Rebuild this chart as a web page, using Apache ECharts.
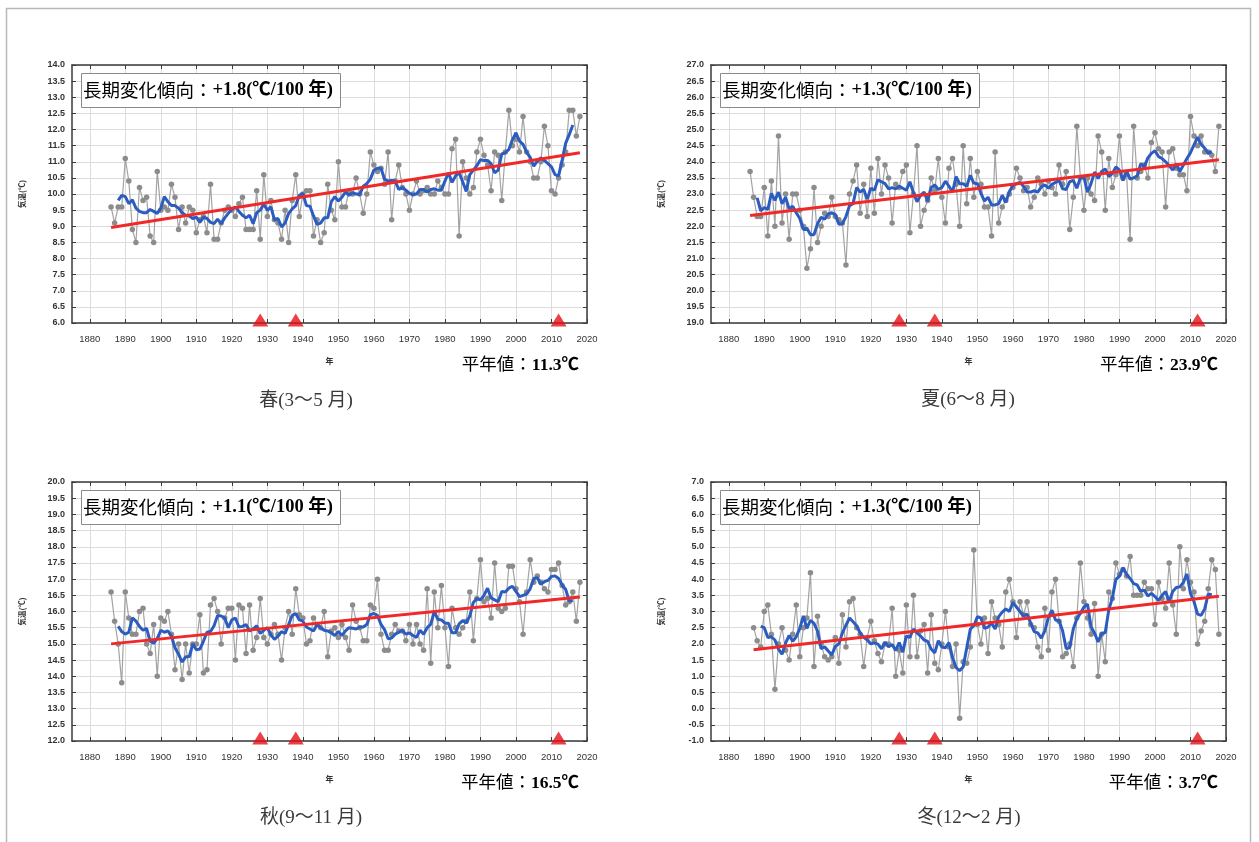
<!DOCTYPE html>
<html>
<head>
<meta charset="utf-8">
<script src="https://cdn.jsdelivr.net/npm/echarts@6/dist/echarts.min.js"></script>
<style>
html,body{margin:0;padding:0;background:#fff;}
#chart{width:1259px;height:842px;}
</style>
</head>
<body>
<div id="chart"></div>
<script>
// ---------- data ----------
const xTickYears = [1880,1890,1900,1910,1920,1930,1940,1950,1960,1970,1980,1990,2000,2010,2020];

const springStart = 1886;
const springTemp = [
 9.6,9.1,9.6,9.6,11.1,10.4,8.9,8.5,10.2,9.8,
 9.9,8.7,8.5,10.7,9.5,9.6,9.5,10.3,9.9,8.9,
 9.6,9.1,9.6,9.5,8.8,9.2,9.3,8.8,10.3,8.6,
 8.6,9.1,9.5,9.6,9.5,9.3,9.7,9.9,8.9,8.9,
 8.9,10.1,8.6,10.6,9.3,9.8,9.2,9.1,8.6,9.5,
 8.5,9.8,10.6,9.3,10.0,10.1,10.1,8.7,9.2,8.5,
 8.8,10.3,9.5,9.2,11.0,9.6,9.6,10.1,10.0,10.5,
 10.0,9.4,10.0,11.3,10.9,10.7,10.8,10.3,11.3,9.2,
 10.4,10.9,10.2,10.0,9.5,10.0,10.4,10.0,10.1,10.2,
 10.0,10.0,10.4,10.2,10.0,10.0,11.4,11.7,8.7,11.0,
 10.5,10.0,10.2,11.3,11.7,11.2,10.9,10.1,11.3,11.2,
 9.8,11.3,12.6,11.5,11.7,11.3,12.4,11.3,11.0,10.5,
 10.5,11.0,12.1,11.5,10.1,10.0,10.5,10.9,11.3,12.6,
 12.6,11.8,12.4
];

const summerStart = 1886;
const summerTemp = [
 23.7,22.9,22.3,22.3,23.2,21.7,23.4,22.0,24.8,22.1,
 23.0,21.6,23.0,23.0,22.5,22.0,20.7,21.3,23.2,21.5,
 22.0,22.4,22.3,22.9,22.3,22.2,22.1,20.8,23.0,23.4,
 23.9,22.4,23.3,22.3,23.8,22.4,24.1,23.0,23.9,23.5,
 22.1,23.3,23.2,23.7,23.9,21.8,23.0,24.5,22.0,22.5,
 22.8,23.5,23.1,24.1,22.9,22.1,23.8,24.1,23.3,22.0,
 24.5,22.7,24.1,22.9,23.7,23.3,22.6,22.6,21.7,24.3,
 22.1,22.6,22.8,23.0,23.2,23.8,23.5,23.1,23.2,22.6,
 22.9,23.5,23.3,23.0,23.4,23.2,23.0,23.9,23.3,23.7,
 21.9,22.9,25.1,23.5,22.5,23.5,23.0,22.8,24.8,24.3,
 22.5,24.1,23.2,23.6,24.8,23.5,23.6,21.6,25.1,23.5,
 23.7,23.9,23.5,24.6,24.9,24.4,24.3,22.6,24.3,24.4,
 23.8,23.6,23.6,23.1,25.4,24.8,24.5,24.8,24.3,24.3,
 24.2,23.7,25.1
];

const autumnStart = 1886;
const autumnTemp = [
 16.6,15.7,15.0,13.8,16.6,15.8,15.3,15.3,16.0,16.1,
 15.0,14.7,15.6,14.0,15.8,15.7,16.0,15.3,14.2,15.0,
 13.9,15.0,14.1,15.0,15.0,15.9,14.1,14.2,16.2,16.4,
 16.0,15.0,15.8,16.1,16.1,14.5,16.2,16.1,14.7,16.2,
 14.8,15.2,16.4,15.2,15.0,15.3,15.6,15.3,14.5,15.5,
 16.0,15.3,16.7,15.9,15.8,15.0,15.1,15.8,15.6,15.5,
 16.0,14.6,15.4,15.5,15.2,15.6,15.2,14.8,16.2,15.7,
 15.5,15.1,15.1,16.2,16.1,17.0,15.3,14.8,14.8,15.3,
 15.6,15.4,15.4,15.1,15.6,15.0,15.6,15.0,14.8,16.7,
 14.4,16.6,15.5,16.8,15.5,14.3,16.1,15.5,15.3,15.5,
 15.7,16.6,15.1,16.4,17.6,16.3,16.4,15.8,17.5,16.1,
 16.0,16.1,17.4,17.4,16.7,16.3,15.3,16.6,17.6,16.9,
 17.1,16.9,16.7,16.6,17.3,17.3,17.5,16.8,16.2,16.3,
 16.6,15.7,16.9
];

const winterStart = 1887;
const winterTemp = [
 2.5,2.1,1.9,3.0,3.2,2.3,0.6,2.0,2.5,1.8,
 1.5,2.3,3.2,1.6,2.5,2.8,4.2,1.3,2.85,2.0,
 1.6,1.5,1.6,2.2,1.4,2.9,1.9,3.3,3.4,2.5,
 2.3,1.3,2.2,2.7,2.1,1.7,1.45,2.0,2.0,3.1,
 1.0,1.8,1.1,3.2,1.6,3.5,1.6,2.4,2.6,1.1,
 2.9,1.4,1.2,2.0,3.0,1.9,1.3,2.0,-0.3,1.45,
 1.4,1.9,4.9,2.6,2.0,2.8,1.7,3.3,2.8,2.6,
 1.9,3.6,4.0,3.3,2.2,3.3,2.9,3.3,2.6,2.5,
 1.9,1.6,3.1,1.8,3.6,4.0,2.7,1.6,1.7,2.0,
 1.3,2.8,4.5,3.3,2.8,2.3,3.25,1.0,2.3,1.45,
 3.6,3.4,4.5,4.15,4.3,4.1,4.7,3.5,3.5,3.5,
 3.9,3.7,3.7,2.6,3.9,3.4,3.1,4.5,3.2,2.3,
 5.0,3.7,4.6,3.9,3.6,2.0,2.4,2.7,3.7,4.6,
 4.3,2.3
];

// linear trend endpoints [year, value]
const springTrend = [[1886, 8.96], [2018, 11.28]];
const summerTrend = [[1886, 22.33], [2018, 24.06]];
const autumnTrend = [[1886, 15.00], [2018, 16.45]];
const winterTrend = [[1887, 1.82], [2018, 3.47]];

const relocationYears = [1928, 1938, 2012];

const yMins = [6, 19, 12, -1];
const yMaxs = [14, 27, 20, 7];
const trendRates = ['+1.8', '+1.3', '+1.1', '+1.3'];
const normalValues = ['11.3', '23.9', '16.5', '3.7'];
const seasonTitles = ['春(3～5 月)', '夏(6～8 月)', '秋(9～11 月)', '冬(12～2 月)'];

// ---------- build ----------
function toPairs(start, vals) { return vals.map((v, i) => [start + i, v]); }
function runningMean5(start, vals) {
  const out = [];
  for (let i = 2; i < vals.length - 2; i++) {
    let s = 0;
    for (let k = -2; k <= 2; k++) s += vals[i + k];
    out.push([start + i, +(s / 5).toFixed(3)]);
  }
  return out;
}

const seriesData = [
  {start: springStart, vals: springTemp, trend: springTrend},
  {start: summerStart, vals: summerTemp, trend: summerTrend},
  {start: autumnStart, vals: autumnTemp, trend: autumnTrend},
  {start: winterStart, vals: winterTemp, trend: winterTrend}
];

const layout = [
  {left: 72, top: 65, width: 515, height: 258, capX: 306, capY: 401},
  {left: 711, top: 65, width: 515, height: 258, capX: 968, capY: 400},
  {left: 72, top: 482, width: 515, height: 259, capX: 311, capY: 818},
  {left: 711, top: 482, width: 515, height: 259, capX: 969, capY: 818}
];

const axisColor = '#3a3a3a';
const gridColor = '#dcdcdc';
const labelFont = "'Liberation Sans', Arial, sans-serif";
const cjkSerif = "'Liberation Serif', 'Noto Sans CJK JP', serif";
const cjkSans = "'Noto Sans CJK JP', sans-serif";

const grids = [], xAxes = [], yAxes = [], series = [], graphics = [];

graphics.push({
  type: 'rect', left: 4, top: 6, z: 0, silent: true,
  shape: {width: 1244, height: 845},
  style: {fill: 'none', stroke: '#b8b8b8', lineWidth: 1.5}
});

layout.forEach((L, i) => {
  grids.push({left: L.left, top: L.top, width: L.width, height: L.height, containLabel: false});
  const xMain = {
    gridIndex: i, type: 'value', min: 1875, max: 2020, position: 'bottom',
    axisLine: {show: true, onZero: false, lineStyle: {color: axisColor, width: 1.5}},
    axisTick: {show: true, inside: true, length: 4, customValues: xTickYears, lineStyle: {color: axisColor}},
    axisLabel: {show: true, customValues: xTickYears, fontSize: 9.5, color: '#333', margin: 11, fontFamily: labelFont,
      formatter: v => String(v)},
    splitLine: {show: true, lineStyle: {color: gridColor, width: 1}},
    name: '年', nameLocation: 'middle', nameGap: 34,
    nameTextStyle: {fontSize: 8, fontWeight: 'bold', color: '#333', fontFamily: cjkSans}
  };
  const xTop = {
    gridIndex: i, type: 'value', min: 1875, max: 2020, position: 'top',
    axisLine: {show: true, onZero: false, lineStyle: {color: axisColor, width: 1.5}},
    axisTick: {show: true, inside: true, length: 4, customValues: xTickYears, lineStyle: {color: axisColor}},
    axisLabel: {show: false},
    splitLine: {show: false}
  };
  xAxes.push(xMain, xTop);
  const yMain = {
    gridIndex: i, type: 'value', min: yMins[i], max: yMaxs[i], interval: 0.5, position: 'left',
    axisLine: {show: true, onZero: false, lineStyle: {color: axisColor, width: 1.5}},
    axisTick: {show: true, inside: true, length: 4, lineStyle: {color: axisColor}},
    axisLabel: {show: true, fontSize: 9, fontWeight: 'bold', color: '#333', margin: 7, fontFamily: labelFont,
      formatter: v => v.toFixed(1)},
    splitLine: {show: true, lineStyle: {color: gridColor, width: 1}},
    name: '気温(℃)', nameLocation: 'middle', nameRotate: 90, nameGap: 46,
    nameTextStyle: {fontSize: 7.5, fontWeight: 'bold', color: '#333', fontFamily: cjkSans}
  };
  const yRight = {
    gridIndex: i, type: 'value', min: yMins[i], max: yMaxs[i], interval: 0.5, position: 'right',
    axisLine: {show: true, onZero: false, lineStyle: {color: axisColor, width: 1.5}},
    axisTick: {show: true, inside: true, length: 4, lineStyle: {color: axisColor}},
    axisLabel: {show: false},
    splitLine: {show: false}
  };
  yAxes.push(yMain, yRight);

  const D = seriesData[i];
  const xi = i * 2, yi = i * 2;
  series.push({
    type: 'line', xAxisIndex: xi, yAxisIndex: yi, data: toPairs(D.start, D.vals),
    symbol: 'circle', symbolSize: 5.5, showSymbol: true,
    lineStyle: {color: '#a3a3a3', width: 1.2},
    itemStyle: {color: '#8c8c8c'},
    z: 2, animation: false, silent: true
  });
  series.push({
    type: 'line', xAxisIndex: xi, yAxisIndex: yi, data: runningMean5(D.start, D.vals),
    symbol: 'none', lineStyle: {color: '#2b5cc0', width: 3},
    z: 3, animation: false, silent: true
  });
  series.push({
    type: 'line', xAxisIndex: xi, yAxisIndex: yi, data: D.trend,
    symbol: 'none', lineStyle: {color: '#f02828', width: 3},
    z: 4, animation: false, silent: true
  });
  series.push({
    type: 'scatter', xAxisIndex: xi, yAxisIndex: yi,
    data: relocationYears.map(y => [y, yMins[i]]),
    symbol: 'triangle', symbolSize: [16, 13], symbolOffset: [0, -3],
    itemStyle: {color: '#e30f17'}, clip: false,
    z: 5, animation: false, silent: true
  });

  // trend box
  graphics.push({
    type: 'rect', left: L.left + 9, top: L.top + 8, z: 10, silent: true,
    shape: {width: 259, height: 34},
    style: {fill: '#fff', stroke: '#8a8a8a', lineWidth: 1}
  });
  graphics.push({
    type: 'text', z: 11, silent: true,
    x: L.left + 11, y: L.top + 25,
    style: {
      text: '{a|長期変化傾向：}{b|' + trendRates[i] + '(℃/100 年)}',
      verticalAlign: 'middle',
      rich: {
        a: {fontSize: 18.5, color: '#5a5a5a', fontFamily: cjkSans},
        b: {fontSize: 18.5, color: '#3a3a3a', fontWeight: 'bold', fontFamily: cjkSerif}
      }
    }
  });
  // normal value
  graphics.push({
    type: 'text', z: 11, silent: true,
    x: L.left + L.width - 8, y: L.top + L.height + 42,
    style: {
      text: '{a|平年値：}{b|' + normalValues[i] + '℃}',
      align: 'right', verticalAlign: 'middle',
      rich: {
        a: {fontSize: 17.5, color: '#555', fontFamily: cjkSerif},
        b: {fontSize: 17.5, color: '#333', fontWeight: 'bold', fontFamily: cjkSerif}
      }
    }
  });
  // caption
  graphics.push({
    type: 'text', z: 11, silent: true,
    x: L.capX, y: L.capY,
    style: {
      text: seasonTitles[i], align: 'center', verticalAlign: 'middle',
      fontSize: 19, fill: '#3a3a3a', fontFamily: cjkSerif
    }
  });
});

const chart = echarts.init(document.getElementById('chart'), null, {renderer: 'canvas'});
chart.setOption({
  animation: false,
  backgroundColor: '#fff',
  grid: grids,
  xAxis: xAxes,
  yAxis: yAxes,
  series: series,
  graphic: graphics
});
</script>
</body>
</html>
